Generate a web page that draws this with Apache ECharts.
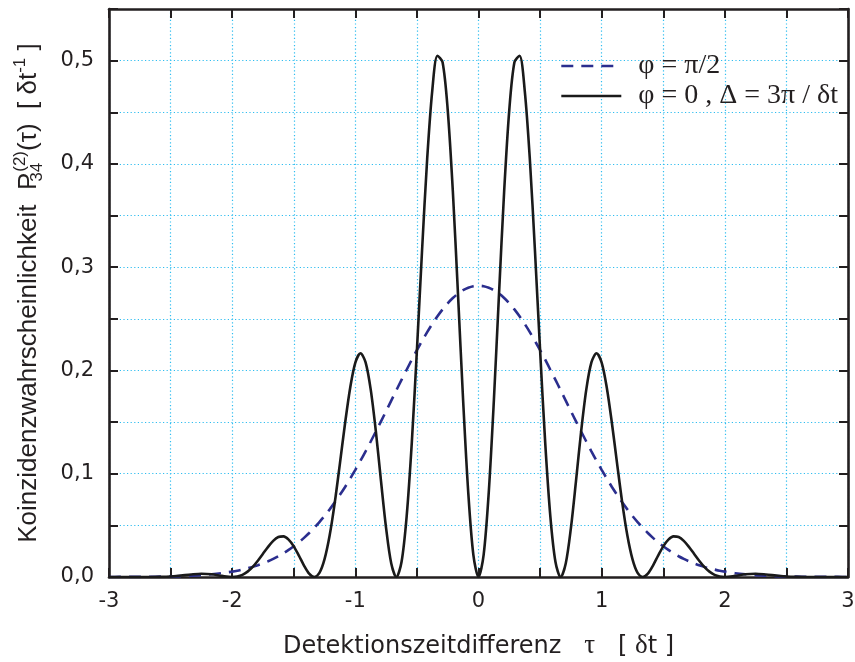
<!DOCTYPE html>
<html>
<head>
<meta charset="utf-8">
<script src="https://cdn.jsdelivr.net/npm/echarts@6/dist/echarts.min.js"></script>
<style>
html,body{margin:0;padding:0;background:#fff;}
#chart{width:855px;height:662px;}
</style>
</head>
<body>
<div id="chart"></div>
<script>
// Detection time difference tau (in units of delta t)
var tau = [
 -3, -2.9167, -2.8333, -2.75, -2.6667, -2.5833, -2.5, -2.4167, -2.3333, -2.25, -2.1667, -2.0833,
 -2, -1.9583, -1.9167, -1.875, -1.8333, -1.7917, -1.75, -1.7083, -1.6667, -1.625, -1.5833, -1.5417,
 -1.5, -1.4583, -1.4167, -1.375, -1.3333, -1.2917, -1.25, -1.2083, -1.1667, -1.125, -1.0833, -1.0417,
 -1, -0.9583, -0.9167, -0.875, -0.8333, -0.7917, -0.75, -0.7083, -0.6667, -0.625, -0.5833, -0.5417,
 -0.5, -0.4583, -0.4167, -0.375, -0.3333, -0.2917, -0.25, -0.2083, -0.1667, -0.125, -0.0833, -0.0417,
 0,
 0.0417, 0.0833, 0.125, 0.1667, 0.2083, 0.25, 0.2917, 0.3333, 0.375, 0.4167, 0.4583, 0.5,
 0.5417, 0.5833, 0.625, 0.6667, 0.7083, 0.75, 0.7917, 0.8333, 0.875, 0.9167, 0.9583, 1,
 1.0417, 1.0833, 1.125, 1.1667, 1.2083, 1.25, 1.2917, 1.3333, 1.375, 1.4167, 1.4583, 1.5,
 1.5417, 1.5833, 1.625, 1.6667, 1.7083, 1.75, 1.7917, 1.8333, 1.875, 1.9167, 1.9583, 2,
 2.0833, 2.1667, 2.25, 2.3333, 2.4167, 2.5, 2.5833, 2.6667, 2.75, 2.8333, 2.9167, 3
];

// phi = pi/2 (dashed)
var dashedValues = [
 0, 0.0001, 0.0001, 0.0001, 0.0002, 0.0004, 0.0005, 0.0008, 0.0012, 0.0018, 0.0026, 0.0037,
 0.0052, 0.0061, 0.0072, 0.0084, 0.0098, 0.0114, 0.0132, 0.0152, 0.0175, 0.0201, 0.0230, 0.0262,
 0.0297, 0.0336, 0.0379, 0.0426, 0.0477, 0.0532, 0.0591, 0.0655, 0.0723, 0.0796, 0.0872, 0.0953,
 0.1038, 0.1126, 0.1217, 0.1312, 0.1409, 0.1507, 0.1607, 0.1708, 0.1809, 0.1909, 0.2007, 0.2104,
 0.2197, 0.2286, 0.2371, 0.2451, 0.2524, 0.2591, 0.2650, 0.2701, 0.2744, 0.2777, 0.2801, 0.2816,
 0.2821,
 0.2816, 0.2801, 0.2777, 0.2744, 0.2701, 0.2650, 0.2591, 0.2524, 0.2451, 0.2371, 0.2286, 0.2197,
 0.2104, 0.2007, 0.1909, 0.1809, 0.1708, 0.1607, 0.1507, 0.1409, 0.1312, 0.1217, 0.1126, 0.1038,
 0.0953, 0.0872, 0.0796, 0.0723, 0.0655, 0.0591, 0.0532, 0.0477, 0.0426, 0.0379, 0.0336, 0.0297,
 0.0262, 0.0230, 0.0201, 0.0175, 0.0152, 0.0132, 0.0114, 0.0098, 0.0084, 0.0072, 0.0061, 0.0052,
 0.0037, 0.0026, 0.0018, 0.0012, 0.0008, 0.0005, 0.0004, 0.0002, 0.0001, 0.0001, 0.0001, 0
];

// phi = 0, Delta = 3pi/dt (solid)
var solidValues = [
 0, 0, 0, 0, 0, 0.0001, 0.0005, 0.0014, 0.0024, 0.0031, 0.0026, 0.0011,
 0, 0.0005, 0.0021, 0.0052, 0.0098, 0.0158, 0.0225, 0.0292, 0.0350, 0.0387, 0.0393, 0.0362,
 0.0297, 0.0207, 0.0111, 0.0032, 0, 0.0040, 0.0173, 0.0404, 0.0723, 0.1101, 0.1489, 0.1833,
 0.2076, 0.2166, 0.2078, 0.1814, 0.1409, 0.0930, 0.0471, 0.0130, 0, 0.0145, 0.0588, 0.1299,
 0.2197, 0.3161, 0.4048, 0.4715, 0.5048, 0.4985, 0.4524, 0.3735, 0.2744, 0.1714, 0.0820, 0.0214,
 0,
 0.0214, 0.0820, 0.1714, 0.2744, 0.3735, 0.4524, 0.4985, 0.5048, 0.4715, 0.4048, 0.3161, 0.2197,
 0.1299, 0.0588, 0.0145, 0, 0.0130, 0.0471, 0.0930, 0.1409, 0.1814, 0.2078, 0.2166, 0.2076,
 0.1833, 0.1489, 0.1101, 0.0723, 0.0404, 0.0173, 0.0040, 0, 0.0032, 0.0111, 0.0207, 0.0297,
 0.0362, 0.0393, 0.0387, 0.0350, 0.0292, 0.0225, 0.0158, 0.0098, 0.0052, 0.0021, 0.0005, 0,
 0.0011, 0.0026, 0.0031, 0.0024, 0.0014, 0.0005, 0.0001, 0, 0, 0, 0, 0
];

var seriesNames = ['φ = π/2', 'φ = 0 , Δ = 3π / δt'];

function pairs(xs, ys) {
  var out = [];
  for (var i = 0; i < xs.length; i++) out.push([xs[i], ys[i]]);
  return out;
}

var INK = '#231f20';
var GRIDC = '#2fbdf0';
var SANS = 'DejaVu Sans';

var chart = echarts.init(document.getElementById('chart'), null, {renderer: 'canvas'});

var axisLine = {show: true, onZero: false, lineStyle: {color: INK, width: 2.6}};
var axisTick = {show: true, inside: true, length: 9, lineStyle: {color: INK, width: 2}};
var gridLine = {show: true, lineStyle: {color: GRIDC, width: 1.2, type: [1.2, 2.4]}};

chart.setOption({
  animation: false,
  backgroundColor: '#ffffff',
  grid: {left: 109, right: 7, top: 9, bottom: 85, containLabel: false, outerBoundsMode: 'none'},
  legend: {
    orient: 'vertical',
    left: 560,
    top: 51,
    padding: 0,
    itemWidth: 60,
    itemHeight: 14,
    itemGap: 0,
    itemStyle: {opacity: 0},
    lineStyle: {width: 2.6},
    data: seriesNames,
    textStyle: {fontFamily: 'Liberation Serif', fontSize: 28, color: INK, lineHeight: 30, padding: [0, 0, 0, 12]}
  },
  xAxis: [{
    type: 'value', min: -3, max: 3, interval: 0.5, position: 'bottom',
    axisLine: axisLine, axisTick: axisTick,
    axisLabel: {
      fontFamily: SANS, fontSize: 21, color: INK, margin: 14,
      formatter: function (v) { return Math.abs(v - Math.round(v)) < 1e-9 ? String(Math.round(v)) : ''; }
    },
    splitLine: gridLine,
    name: '{a|Detektionszeitdifferenz   }{g|τ}{a|   [ }{g|δ}{a|t ]}',
    nameLocation: 'middle', nameGap: 55,
    nameTextStyle: {
      color: INK,
      rich: {
        a: {fontFamily: SANS, fontSize: 24, color: INK, lineHeight: 30},
        g: {fontFamily: 'Liberation Serif', fontSize: 27, color: INK, lineHeight: 22, verticalAlign: 'top'}
      }
    }
  }, {
    type: 'value', min: -3, max: 3, interval: 0.5, position: 'top',
    axisLine: axisLine, axisTick: axisTick,
    axisLabel: {show: false}, splitLine: {show: false}
  }],
  yAxis: [{
    type: 'value', min: 0, max: 0.55, interval: 0.05, position: 'left',
    axisLine: axisLine, axisTick: axisTick,
    axisLabel: {
      fontFamily: SANS, fontSize: 21, color: INK, margin: 15,
      formatter: function (v) {
        var h = Math.round(v * 100);
        return (h % 10 === 0 && h <= 50) ? (h / 100).toFixed(1).replace('.', ',') : '';
      }
    },
    splitLine: gridLine,
    name: '{a|Koinzidenzwahrscheinlichkeit  P}{sub|34}{sup|(2)}{a|(τ)  [ δt}{sup2|-1}{a| ]}',
    nameLocation: 'middle', nameRotate: 90, nameGap: 63,
    nameTextStyle: {
      color: INK,
      rich: {
        a: {fontFamily: 'Liberation Sans', fontSize: 26, color: INK, lineHeight: 34},
        sub: {fontFamily: 'Liberation Sans', fontSize: 17, color: INK, lineHeight: 26, verticalAlign: 'bottom', width: 1},
        sup: {fontFamily: 'Liberation Sans', fontSize: 17, color: INK, lineHeight: 17, verticalAlign: 'top'},
        sup2: {fontFamily: 'Liberation Sans', fontSize: 17, color: INK, lineHeight: 22, verticalAlign: 'top'}
      }
    }
  }, {
    type: 'value', min: 0, max: 0.55, interval: 0.05, position: 'right',
    axisLine: axisLine, axisTick: axisTick,
    axisLabel: {show: false}, splitLine: {show: false}
  }],
  series: [{
    name: seriesNames[0], type: 'line', xAxisIndex: 0, yAxisIndex: 0,
    data: pairs(tau, dashedValues),
    symbol: 'none', smooth: 0.3,
    itemStyle: {color: '#2b2e8e'},
    lineStyle: {color: '#2b2e8e', width: 2.6, type: [12, 8]},
    z: 3
  }, {
    name: seriesNames[1], type: 'line', xAxisIndex: 0, yAxisIndex: 0,
    data: pairs(tau, solidValues),
    symbol: 'none', smooth: 0.3,
    itemStyle: {color: '#1a1a1a'},
    lineStyle: {color: '#1a1a1a', width: 2.6},
    z: 4
  }]
});
</script>
</body>
</html>
